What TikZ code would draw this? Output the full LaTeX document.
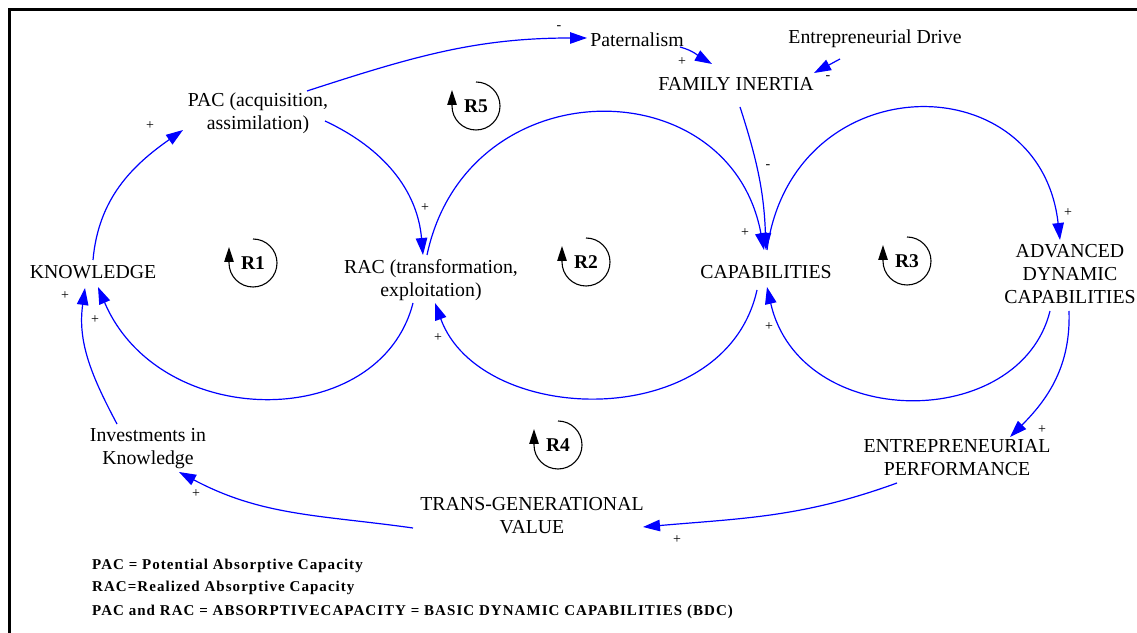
\documentclass[tikz,border=0pt]{standalone}
\usepackage{fontspec}
\setmainfont{Liberation Serif}
\usetikzlibrary{arrows.meta}

\begin{document}
\begin{tikzpicture}[x=1pt,y=1pt,
    var/.style={font=\fontsize{19.8}{23}\selectfont, align=center, inner sep=2pt},
    link/.style={blue, line width=1.2pt, -{Triangle[length=17pt,width=11.5pt]}},
    sign/.style={font=\fontsize{14}{14}\selectfont, inner sep=0pt},
    loopname/.style={font=\bfseries\fontsize{19.5}{23}\selectfont, inner sep=0pt},
    loopmark/.style={black, line width=1.1pt, -{Triangle[length=15pt,width=9.5pt]}},
    legend/.style={font=\bfseries\fontsize{15}{15}\selectfont\addfontfeatures{LetterSpace=7}, anchor=west, inner sep=0pt}]
  \useasboundingbox (0,0) rectangle (1137,632);
  \draw[line width=3pt] (9,-5) -- (9,622) -- (1140,622);

  % variables
  \node[var] (pac) at (258,519) {PAC (acquisition,\\assimilation)};
  \node[var] (know) at (93,360) {KNOWLEDGE};
  \node[var] (rac) at (431,352) {RAC (transformation,\\exploitation)};
  \node[var] (cap) at (766,360) {CAPABILITIES};
  \node[var] (adc) at (1070,358) {ADVANCED\\DYNAMIC\\CAPABILITIES};
  \node[var] (ep) at (957,174) {ENTREPRENEURIAL\\PERFORMANCE};
  \node[var] (tgv) at (532,116) {TRANS-GENERATIONAL\\VALUE};
  \node[var] (inv) at (148,183) {Investments in\\Knowledge};
  \node[var] (pat) at (637,592) {Paternalism};
  \node[var] (fi) at (736,548) {FAMILY INERTIA};
  \node[var] (ed) at (875,593) {Entrepreneurial Drive};

  % links
  \draw[link] ([shift={(0,12)}]know.center) to[out=85,in=215] ([shift={(-75,-17)}]pac.center);
  \draw[link] ([shift={(67,-8)}]pac.center) to[out=-25,in=95] ([shift={(-8,25)}]rac.center);
  \draw[link] ([shift={(-4,25)}]rac.center) .. controls +(40,188) and +(-34,183) .. ([shift={(-2,22)}]cap.center);
  \draw[link] ([shift={(4,-23)}]fi.center) to[out=-72,in=92] ([shift={(0,22)}]cap.center);
  \draw[link] ([shift={(1,22)}]cap.center) .. controls +(25,185) and +(-20,178) .. ([shift={(-10,34)}]adc.center);
  \draw[link] ([shift={(-20,-37)}]adc.center) .. controls +(-30,-121) and +(33,-145) .. ([shift={(1,-15)}]cap.center);
  \draw[link] ([shift={(-9,-18)}]cap.center) .. controls +(-32,-144) and +(45,-124) .. ([shift={(4,-23)}]rac.center);
  \draw[link] ([shift={(-18,-23)}]rac.center) .. controls +(-33,-129) and +(62,-145) .. ([shift={(5,-15)}]know.center);
  \draw[link] ([shift={(-31,25)}]inv.center) to[out=118,in=-98] ([shift={(-8,-16)}]know.center);
  \draw[link] ([shift={(-1,-37)}]adc.center) to[out=-88,in=45] ([shift={(53,21)}]ep.center);
  \draw[link] ([shift={(-60,-25)}]ep.center) to[out=200,in=5] ([shift={(111,-11)}]tgv.center);
  \draw[link] ([shift={(-119,-12)}]tgv.center) to[out=172,in=-28] ([shift={(31,-23)}]inv.center);
  \draw[link] ([shift={(49,22)}]pac.center) to[out=18,in=180] ([shift={(-50,2)}]pat.center);
  \draw[link] ([shift={(43,-7)}]pat.center) to[out=-15,in=150] ([shift={(-24,20)}]fi.center);
  \draw[link] ([shift={(-35,-20)}]ed.center) -- ([shift={(78,11)}]fi.center);

  % polarities
  \foreach \i/\x/\y/\s in {1/150/506/+, 2/425/424/+, 3/768/465/-, 4/745/399/+,
      5/1068/419/+, 6/769/305/+, 7/438/294/+, 8/65/336/+, 9/95/312/+, 10/196/138/+,
      11/677/92/+, 12/1042/202/+, 13/559/604/-, 14/682/570/+, 15/828/554/-}
    \node[sign] (sign\i) at (\x,\y) {\s};

  % loops
  \foreach \n/\x/\y in {1/253/369, 2/586/370, 3/907/371, 4/558/187, 5/476/526} {
    \node[loopname] (r\n) at (\x,\y) {R\n};
    \draw[loopmark] ([yshift=24pt]r\n.center) arc[start angle=90, end angle=-180, radius=24pt] -- ++(0,16);
  }

  % legend
  \node[legend] (leg1) at (92,66) {PAC = Potential Absorptive Capacity};
  \node[legend] (leg2) at (92,44) {RAC=Realized Absorptive Capacity};
  \node[legend] (leg3) at (92,20) {PAC and RAC = ABSORPTIVECAPACITY = BASIC DYNAMIC CAPABILITIES (BDC)};
\end{tikzpicture}
\end{document}
